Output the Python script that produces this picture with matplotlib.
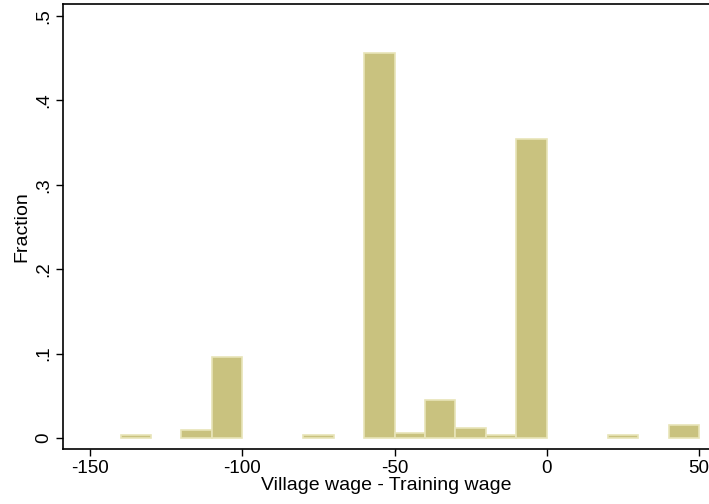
import numpy as np
import matplotlib.pyplot as plt
import matplotlib as mpl

mpl.rcParams.update({
    "font.family": ["Liberation Sans", "DejaVu Sans"],
})

# histogram bins (width 10) and bar heights as fractions
BIN_LEFT = [-140, -120, -110, -80, -60, -50, -40, -30, -20, -10, 20, 40]
FRACTION = [0.004, 0.009, 0.096, 0.004, 0.456, 0.006, 0.045, 0.012, 0.004, 0.354, 0.004, 0.015]
BIN_WIDTH = 10

X_TICKS = [-150, -100, -50, 0, 50]
Y_TICKS = [0, 0.1, 0.2, 0.3, 0.4, 0.5]
Y_LABELS = ["0", ".1", ".2", ".3", ".4", ".5"]

BAR = "#c9c27f"
EDGE = "#e8e4b8"

fig = plt.figure(figsize=(7.09, 5.04), dpi=100)
ax = fig.add_axes([63 / 709, 1 - 449 / 504, 646 / 709, 445 / 504])

ax.bar(BIN_LEFT, FRACTION, width=BIN_WIDTH, align="edge",
       color=BAR, edgecolor=EDGE, linewidth=1.2)

ax.set_xlim(-158.9, 53.3)
ax.set_ylim(-0.013, 0.514)
ax.set_xticks(X_TICKS)
ax.set_xticklabels([str(t) for t in X_TICKS])
ax.set_yticks(Y_TICKS)
ax.set_yticklabels(Y_LABELS, rotation=90, va="center")
ax.tick_params(axis="both", direction="out", length=5, width=1, labelsize=13.5,
               color="black", pad=3)

for s in ["left", "bottom", "top"]:
    ax.spines[s].set_color("black")
    ax.spines[s].set_linewidth(1.2)
ax.spines["right"].set_visible(False)

ax.set_xlabel("Village wage - Training wage", fontsize=14, labelpad=0)
ax.set_ylabel("Fraction", fontsize=14, labelpad=3)

fig.savefig("out.png", dpi=100)
